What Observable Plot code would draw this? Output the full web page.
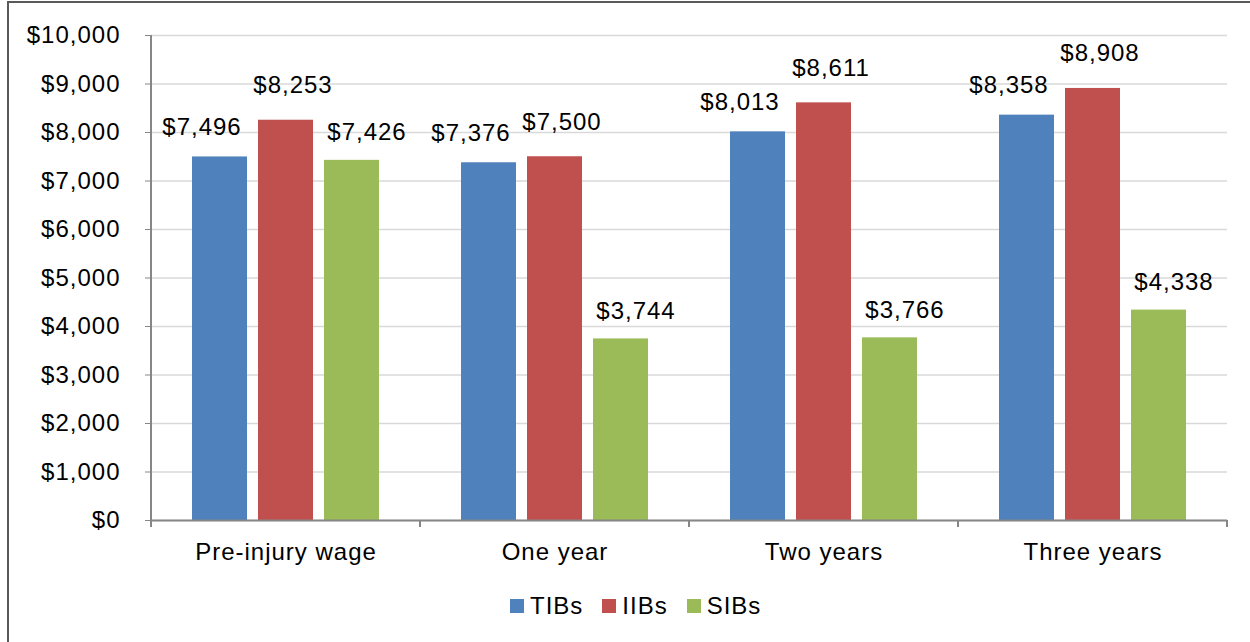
<!DOCTYPE html>
<html><head><meta charset="utf-8">
<script src="https://cdn.jsdelivr.net/npm/d3@7"></script>
<script src="https://cdn.jsdelivr.net/npm/@observablehq/plot@0.6"></script>
<style>
html,body{margin:0;padding:0;background:#fff;}
#chart{position:relative;width:1250px;height:642px;overflow:hidden;font-family:"Liberation Sans",Arial,sans-serif;}
#frame{position:absolute;left:7px;top:1px;width:1300px;height:700px;border-left:2px solid #595959;border-top:2px solid #595959;box-sizing:border-box;}
#plot{position:absolute;left:0;top:0;}
#legend{position:absolute;left:510px;top:592px;display:flex;align-items:center;font-size:24px;letter-spacing:1px;color:#000;}
#legend .item{display:flex;align-items:center;margin-right:19px;}
#legend .sw{width:14px;height:14px;margin-right:6px;}
</style>
</head><body>
<div id="chart"><div id="frame"></div><div id="plot"></div><div id="legend"></div></div>
<script>
const categories = ["Pre-injury wage", "One year", "Two years", "Three years"];
const seriesNames = ["TIBs", "IIBs", "SIBs"];
const tibs = [7496, 7376, 8013, 8358];
const iibs = [8253, 7500, 8611, 8908];
const sibs = [7426, 3744, 3766, 4338];
const colors = ["#4f81bd", "#c0504d", "#9bbb59"];
const yTicks = [0, 1000, 2000, 3000, 4000, 5000, 6000, 7000, 8000, 9000, 10000];

const seriesValues = [tibs, iibs, sibs];
const rows = categories.flatMap((c, i) => seriesValues.map((arr, j) => ({category: c, series: seriesNames[j], value: arr[i]})));
const money = d3.format("$,");

// label nudges per series (Excel-style placement avoiding overlaps)
const labelNudge = {TIBs: {dx: -18, dy: -22}, IIBs: {dx: 7, dy: -27}, SIBs: {dx: 15, dy: -20}};

const plot = Plot.plot({
  width: 1250, height: 575,
  marginLeft: 151, marginRight: 23, marginTop: 35, marginBottom: 55,
  style: {fontFamily: "Liberation Sans, Arial, sans-serif", fontSize: "24px", color: "#000", background: "transparent", letterSpacing: "1px"},
  fx: {domain: categories, padding: 0, label: null},
  x: {domain: seriesNames, paddingInner: 0.1667, paddingOuter: 0.621, axis: null},
  y: {domain: [0, 10000], label: null},
  color: {domain: seriesNames, range: colors},
  marks: [
    Plot.gridY(yTicks, {stroke: "#d9d9d9", strokeOpacity: 1, strokeWidth: 1.5}),
    Plot.axisY(yTicks, {tickFormat: money, tickSize: 6, tickPadding: 25, stroke: "#868686", fill: "#000", label: null, fontSize: 24}),
    Plot.axisFx({anchor: "bottom", tickSize: 0, tickPadding: 22, label: null, fontSize: 24}),
    Plot.barY(rows, {fx: "category", x: "series", y: "value", fill: "series"}),
    Plot.ruleY([0], {stroke: "#868686", strokeWidth: 2}),
    ...seriesNames.map(s => Plot.text(rows.filter(d => d.series === s), {
      fx: "category", x: "series", y: "value", text: d => money(d.value),
      lineAnchor: "bottom", dx: labelNudge[s].dx, dy: labelNudge[s].dy, fontSize: 24, fill: "#000"
    }))
  ]
});
document.getElementById("plot").appendChild(plot);

// axis line and category boundary ticks from the library's scales
const svg = d3.select(plot);
const fx = plot.scale("fx");
const y = plot.scale("y");
const y0 = y.apply(0);
const bounds = categories.map(c => fx.apply(c)).concat([fx.apply(categories[categories.length - 1]) + fx.bandwidth]);
const g = svg.append("g").attr("stroke", "#868686").attr("stroke-width", 2);
g.append("line").attr("x1", bounds[0]).attr("x2", bounds[0]).attr("y1", y.apply(10000)).attr("y2", y0);
bounds.forEach(b => g.append("line").attr("x1", b).attr("x2", b).attr("y1", y0).attr("y2", y0 + 7));

// legend
const legend = d3.select("#legend");
seriesNames.forEach((s, i) => {
  const it = legend.append("div").attr("class", "item");
  it.append("div").attr("class", "sw").style("background", colors[i]);
  it.append("span").text(s);
});
</script>
</body></html>
